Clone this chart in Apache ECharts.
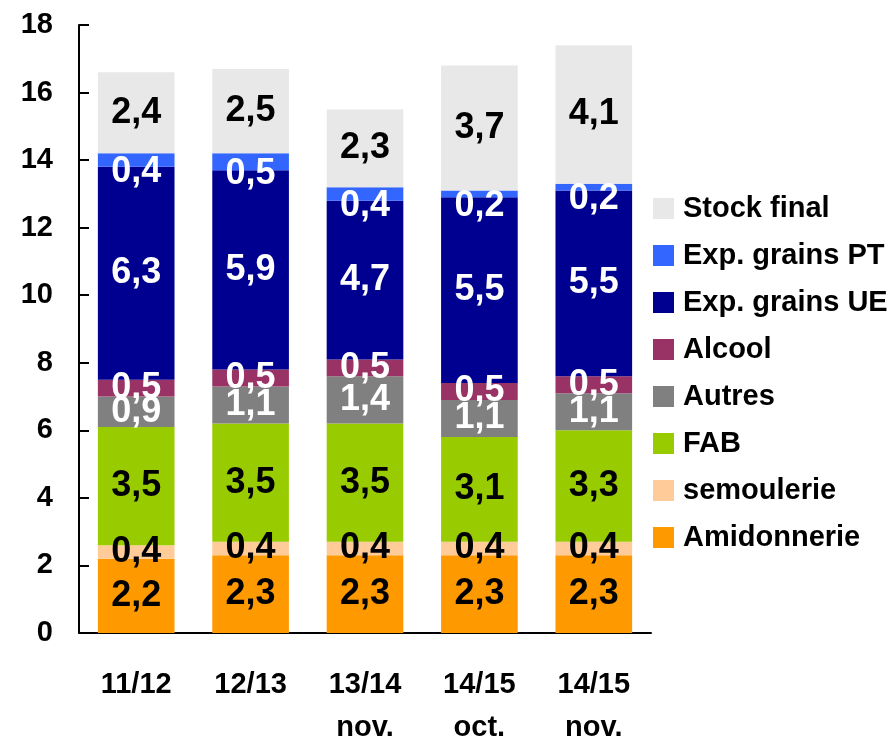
<!DOCTYPE html>
<html><head><meta charset="utf-8">
<script src="https://cdn.jsdelivr.net/npm/echarts@6/dist/echarts.min.js"></script>
<style>html,body{margin:0;padding:0;background:#fff;overflow:hidden}#c{width:892px;height:737px}</style>
</head><body><div id="c"></div>
<script>
const categories = ['11/12', '12/13', '13/14\nnov.', '14/15\noct.', '14/15\nnov.'];
const seriesNames = ['Amidonnerie', 'semoulerie', 'FAB', 'Autres', 'Alcool', 'Exp. grains UE', 'Exp. grains PT', 'Stock final'];
const amidonnerie = [2.2, 2.3, 2.3, 2.3, 2.3];
const semoulerie = [0.4, 0.4, 0.4, 0.4, 0.4];
const fab = [3.5, 3.5, 3.5, 3.1, 3.3];
const autres = [0.9, 1.1, 1.4, 1.1, 1.1];
const alcool = [0.5, 0.5, 0.5, 0.5, 0.5];
const expUE = [6.3, 5.9, 4.7, 5.5, 5.5];
const expPT = [0.4, 0.5, 0.4, 0.2, 0.2];
const stockFinal = [2.4, 2.5, 2.3, 3.7, 4.1];
const yTicks = [0, 2, 4, 6, 8, 10, 12, 14, 16, 18];

const values = [amidonnerie, semoulerie, fab, autres, alcool, expUE, expPT, stockFinal];
const colors = ['#FF9900', '#FFCC99', '#99CC00', '#808080', '#993366', '#000090', '#3366FF', '#E8E8E8'];
const labelColors = ['#000', '#000', '#000', '#fff', '#fff', '#fff', '#fff', '#000'];
const labelOffsets = [[0,0],[0,0],[0,0],[0,0],[0,0],[0,0],[0,12],[0,0]];
const FONT = '"Liberation Sans", Arial, sans-serif';

const chart = echarts.init(document.getElementById('c'), null, {renderer: 'canvas'});
chart.setOption({
  animation: false,
  textStyle: {fontFamily: FONT},
  grid: {left: 79, right: 241, top: 25, bottom: 104, containLabel: false, outerBoundsMode: 'none'},
  legend: {
    orient: 'vertical', left: 653, top: 194, padding: 0,
    itemWidth: 21, itemHeight: 21, itemGap: 18,
    icon: 'rect',
    data: seriesNames.slice().reverse(),
    textStyle: {fontFamily: FONT, fontSize: 29, fontWeight: 'bold', color: '#000', padding: [0, 0, 0, 4]}
  },
  xAxis: {
    type: 'category', data: categories,
    axisLine: {lineStyle: {color: '#000', width: 2}},
    axisTick: {inside: true, length: 10, lineStyle: {color: '#000', width: 2}},
    axisLabel: {fontFamily: FONT, fontSize: 29, fontWeight: 'bold', color: '#000', margin: 30, lineHeight: 43, interval: 0}
  },
  yAxis: {
    type: 'value', min: yTicks[0], max: yTicks[yTicks.length - 1], interval: yTicks[1] - yTicks[0],
    axisLine: {show: true, lineStyle: {color: '#000', width: 2}},
    axisTick: {show: true, inside: true, length: 10, lineStyle: {color: '#000', width: 2}},
    splitLine: {show: false},
    axisLabel: {fontFamily: FONT, fontSize: 29, fontWeight: 'bold', color: '#000', margin: 26, padding: [12, 0, 0, 0]}
  },
  series: seriesNames.map((name, i) => ({
    name, type: 'bar', stack: 'total', barWidth: '67%',
    data: values[i],
    itemStyle: {color: colors[i]},
    label: {
      show: true, position: 'inside', offset: labelOffsets[i],
      fontFamily: FONT, fontSize: 36, fontWeight: 'bold', color: labelColors[i],
      textBorderWidth: 0,
      formatter: p => p.value.toFixed(1).replace('.', ',')
    }
  }))
});
</script></body></html>
